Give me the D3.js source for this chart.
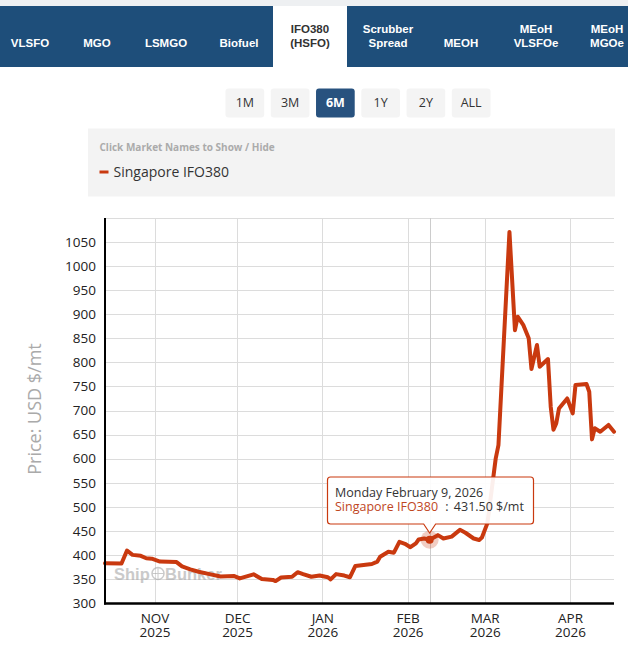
<!DOCTYPE html>
<html><head><meta charset="utf-8">
<script src="https://cdn.jsdelivr.net/npm/d3@7"></script>
<style>body{margin:0;background:#fff;overflow:hidden;} svg{display:block;}</style>
</head><body><svg id="c" width="628" height="658"></svg>
<script>
// ---------- DATA ----------
const tabLabels = [["VLSFO"],["MGO"],["LSMGO"],["Biofuel"],["IFO380","(HSFO)"],["Scrubber","Spread"],["MEOH"],["MEoH","VLSFOe"],["MEoH","MGOe"]];
const activeTab = "IFO380";
const rangeButtons = ["1M","3M","6M","1Y","2Y","ALL"];
const activeRange = "6M";
const seriesName = "Singapore IFO380";
const yTicks = [300,350,400,450,500,550,600,650,700,750,800,850,900,950,1000,1050];
const monthTicks = ["2025-11-01","2025-12-01","2026-01-01","2026-02-01","2026-03-01","2026-04-01"];
const dates = [
 "2025-10-14","2025-10-20","2025-10-22","2025-10-24","2025-10-27","2025-10-29","2025-10-31",
 "2025-11-03","2025-11-09","2025-11-11","2025-11-14","2025-11-17","2025-11-21","2025-11-25","2025-11-30",
 "2025-12-02","2025-12-07","2025-12-10","2025-12-14","2025-12-15","2025-12-17","2025-12-21","2025-12-23",
 "2025-12-25","2025-12-28","2025-12-31","2026-01-03","2026-01-04","2026-01-06","2026-01-09","2026-01-11",
 "2026-01-13","2026-01-16","2026-01-19","2026-01-21","2026-01-22","2026-01-25","2026-01-27","2026-01-29",
 "2026-01-31","2026-02-02","2026-02-04","2026-02-05","2026-02-07","2026-02-09","2026-02-12","2026-02-14",
 "2026-02-17","2026-02-20","2026-02-22","2026-02-25","2026-02-27","2026-02-28","2026-03-02","2026-03-05",
 "2026-03-06","2026-03-10","2026-03-12","2026-03-13","2026-03-15","2026-03-17","2026-03-18","2026-03-20",
 "2026-03-21","2026-03-24","2026-03-25","2026-03-26","2026-03-27","2026-03-28","2026-03-31","2026-04-02",
 "2026-04-03","2026-04-07","2026-04-08","2026-04-09","2026-04-10","2026-04-12","2026-04-15","2026-04-17"];
const prices = [
 382.5,382,409,400,398,393,392,
 386,385,376,370,365,360,355,356,
 351,359.5,350,348,345.5,353,354.5,364,
 360,354.5,357,353.5,349,360,357,353.5,
 377,379,381,386,396,406.5,404.5,427,
 423,416,424,432,434,431.5,441,434,
 438,452,446,434,431,436,466,600,
 628,1071,867,895,878,850,786,836,
 791,807,708,660,673,704,725,694,
 753,755,739,640,663,656,670,656];
const tooltipDate = "2026-02-09";

// ---------- SETUP ----------
const svg = d3.select("#c");
const parse = d3.timeParse("%Y-%m-%d");
const data = dates.map((d,i)=>({date:parse(d), value:prices[i]}));
const lineColor = "#c9390f";
const navBlue = "#1e4e7a";
const sans = "'Open Sans', 'Noto Sans', sans-serif";
const arial = "'Liberation Sans', Arial, sans-serif";

// top strip + nav
svg.append("rect").attr("x",0).attr("y",0).attr("width",628).attr("height",6).attr("fill","#eef0f2");
svg.append("rect").attr("x",0).attr("y",6).attr("width",628).attr("height",61).attr("fill",navBlue);
const tabCenters = [30,97,166,239,310,388,461,536,607];
const tabs = svg.append("g");
tabLabels.forEach((lab,i)=>{
  const isActive = lab[0]===activeTab;
  if(isActive){
    tabs.append("rect").attr("x",273).attr("y",6).attr("width",74).attr("height",61).attr("fill","#fff");
  }
  const t = tabs.append("text").attr("text-anchor","middle")
    .attr("font-family",arial).attr("font-weight","bold").attr("font-size","11.5px")
    .attr("fill", isActive? "#333":"#fff");
  const baseY = 46.8;
  lab.forEach((s,j)=>{
    const y = lab.length===1 ? baseY : baseY - (lab.length-1-j)*13.4;
    t.append("tspan").attr("x",tabCenters[i]).attr("y",y).text(s);
  });
});

// range buttons
const btnX = d3.scaleBand().domain(rangeButtons).range([225.5,490.5]).paddingInner(0.145).paddingOuter(0);
rangeButtons.forEach(b=>{
  const act = b===activeRange;
  svg.append("rect").attr("x",btnX(b)).attr("y",88.5).attr("width",btnX.bandwidth()).attr("height",29)
    .attr("rx",3).attr("fill", act? "#28527f":"#f4f4f4");
  svg.append("text").attr("x",btnX(b)+btnX.bandwidth()/2).attr("y",106.5).attr("text-anchor","middle")
    .attr("font-family",sans).attr("font-size","12.5px").attr("font-weight",act?"bold":"normal")
    .attr("fill",act?"#fff":"#333").text(b);
});

// legend box
svg.append("rect").attr("x",88).attr("y",128.5).attr("width",527).attr("height",68).attr("fill","#f3f3f3");
svg.append("text").attr("x",99.5).attr("y",151.3).attr("font-family",sans).attr("font-size","10px")
  .attr("font-weight","bold").attr("fill","#ababab").text("Click Market Names to Show / Hide");
svg.append("line").attr("x1",99.5).attr("x2",108.5).attr("y1",172).attr("y2",172)
  .attr("stroke",lineColor).attr("stroke-width",3);
svg.append("text").attr("x",113.5).attr("y",176.6).attr("font-family",sans).attr("font-size","14px")
  .attr("fill","#333").text(seriesName);

// ---------- CHART ----------
const x = d3.scaleTime().domain([parse("2025-10-14"), parse("2026-04-17")]).range([105,614]);
const y = d3.scaleLinear().domain([300,1100]).range([603,218]);

const grid = svg.append("g").attr("stroke","#dcdcdc").attr("stroke-width",1);
d3.range(300,1101,50).forEach(v=>{
  grid.append("line").attr("x1",105).attr("x2",614).attr("y1",Math.round(y(v))+0.5).attr("y2",Math.round(y(v))+0.5);
});
monthTicks.forEach(m=>{
  const xx = Math.round(x(parse(m)))+0.5;
  grid.append("line").attr("x1",xx).attr("x2",xx).attr("y1",218).attr("y2",603);
});
// crosshair
const tipPt = data.find(d=>+d.date===+parse(tooltipDate));
svg.append("line").attr("x1",Math.round(x(tipPt.date))+0.5).attr("x2",Math.round(x(tipPt.date))+0.5)
  .attr("y1",218).attr("y2",603).attr("stroke","#cccccc").attr("stroke-width",1);

// watermark
const wm = svg.append("g").attr("opacity",0.6);
wm.append("text").attr("x",114).attr("y",579.5).attr("font-family",arial).attr("font-weight","bold")
  .attr("font-size","16.5px").attr("fill","#a8a8a8").text("Ship");
wm.append("circle").attr("cx",158).attr("cy",573.5).attr("r",6).attr("fill","none").attr("stroke","#a8a8a8").attr("stroke-width",1.5);
wm.append("path").attr("d","M152,573.5H164M158,567.5V579.5").attr("stroke","#a8a8a8").attr("stroke-width",1);
wm.append("text").attr("x",165).attr("y",579.5).attr("font-family",arial).attr("font-weight","bold")
  .attr("font-size","16.5px").attr("fill","#a8a8a8").text("Bunker");

// line
const line = d3.line().x(d=>x(d.date)).y(d=>y(d.value)).curve(d3.curveLinear);
svg.append("path").datum(data).attr("d",line).attr("fill","none").attr("stroke",lineColor)
  .attr("stroke-width",4).attr("stroke-linejoin","round").attr("stroke-linecap","round");

// axes
const yAxis = svg.append("g").attr("transform","translate(105,0)")
  .call(d3.axisLeft(y).tickValues(yTicks).tickSize(0).tickPadding(9).tickFormat(d3.format("d")));
yAxis.select(".domain").remove();
yAxis.selectAll("text").attr("font-family",sans).attr("font-size","13.5px").attr("fill","#222");

const xAxis = svg.append("g").attr("transform","translate(0,603)")
  .call(d3.axisBottom(x).tickValues(monthTicks.map(parse)).tickSize(0).tickFormat(""));
xAxis.select(".domain").remove();
xAxis.selectAll(".tick text").remove();
xAxis.selectAll(".tick").each(function(d){
  const g = d3.select(this);
  g.append("text").attr("x",0).attr("y",19.5).attr("text-anchor","middle").attr("font-family",sans)
    .attr("font-size","13.5px").attr("fill","#222").text(d3.timeFormat("%b")(d).toUpperCase());
  g.append("text").attr("x",0).attr("y",33.5).attr("text-anchor","middle").attr("font-family",sans)
    .attr("font-size","13.5px").attr("fill","#222").text(d3.timeFormat("%Y")(d));
});

svg.append("line").attr("x1",105).attr("x2",105).attr("y1",218).attr("y2",604.5).attr("stroke","#000").attr("stroke-width",2);
svg.append("line").attr("x1",104).attr("x2",614).attr("y1",603.5).attr("y2",603.5).attr("stroke","#000").attr("stroke-width",2.5);

// y title
svg.append("text").attr("transform","translate(40.5,409) rotate(-90)").attr("text-anchor","middle")
  .attr("font-family",sans).attr("font-size","18px").attr("fill","#aaaaaa").text("Price: USD $/mt");

// hover marker
const px = x(tipPt.date), py = y(tipPt.value);
svg.append("circle").attr("cx",px).attr("cy",py).attr("r",9).attr("fill",lineColor).attr("opacity",0.25);
svg.append("circle").attr("cx",px).attr("cy",py).attr("r",4).attr("fill",lineColor);

// tooltip
const tx0=327.5, tx1=533.5, ty0=477, ty1=524, r=3, cx=px, tipY=533;
const tpath = `M${tx0+r},${ty0}H${tx1-r}Q${tx1},${ty0} ${tx1},${ty0+r}V${ty1-r}Q${tx1},${ty1} ${tx1-r},${ty1}`+
  `H${cx+6}L${cx},${tipY}L${cx-6},${ty1}H${tx0+r}Q${tx0},${ty1} ${tx0},${ty1-r}V${ty0+r}Q${tx0},${ty0} ${tx0+r},${ty0}Z`;
svg.append("path").attr("d",tpath).attr("fill","#fff").attr("fill-opacity",0.92).attr("stroke",lineColor).attr("stroke-width",1.2);
svg.append("text").attr("x",335).attr("y",497).attr("font-family",sans).attr("font-size","12.5px").attr("fill","#333")
  .text(d3.timeFormat("%A %B %-d, %Y")(tipPt.date));
const t2 = svg.append("text").attr("x",335).attr("y",511).attr("font-family",sans).attr("font-size","12.5px").attr("fill","#333");
t2.append("tspan").attr("fill","#c0461e").text(seriesName);
t2.append("tspan").attr("dx",4).text(" :");
t2.append("tspan").attr("dx",2).text(" " + d3.format(".2f")(tipPt.value) + " $/mt");
</script></body></html>
